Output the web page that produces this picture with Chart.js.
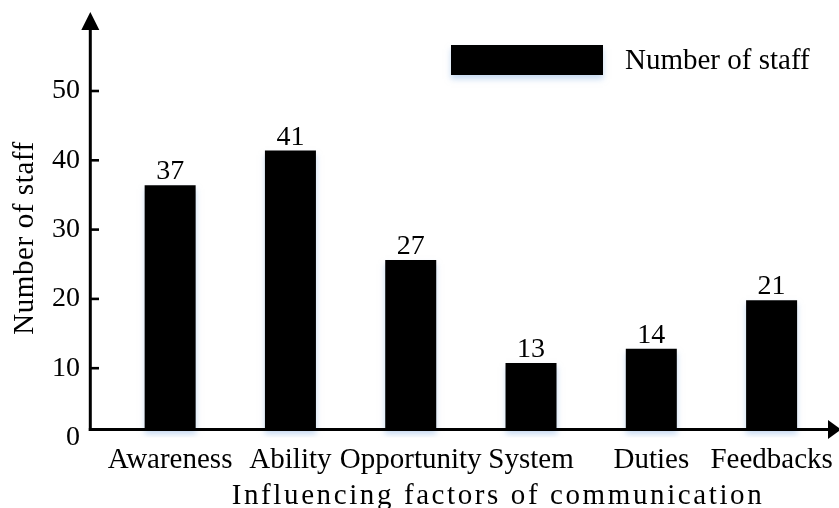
<!DOCTYPE html>
<html><head><meta charset="utf-8">
<script src="https://cdn.jsdelivr.net/npm/chart.js@4.4.0/dist/chart.umd.min.js"></script>
<style>html,body{margin:0;padding:0;background:#fff;overflow:hidden}#wrap{width:839px;height:508px;position:relative}</style>
</head><body><div id="wrap"><canvas id="c" width="839" height="508"></canvas></div>
<script>
const categories = ['Awareness', 'Ability', 'Opportunity', 'System', 'Duties', 'Feedbacks'];
const barHeights = [36.4, 41.4, 25.6, 10.75, 12.8, 19.8];
const valueLabels = ['37', '41', '27', '13', '14', '21'];
const yTickValues = [0, 10, 20, 30, 40, 50];
const seriesName = 'Number of staff';
const xTitle = 'Influencing factors of communication';
const yTitle = 'Number of staff';
const axisBase = 1.15;
const yMax = 61.4;

const FONT = '"Liberation Serif", "Times New Roman", serif';

const deco = {
  id: 'deco',
  beforeDatasetsDraw(chart) {
    const ctx = chart.ctx;
    ctx.save();
    ctx.shadowColor = 'rgba(150,185,230,0.55)';
    ctx.shadowBlur = 6;
    ctx.shadowOffsetY = 4;
  },
  afterDatasetsDraw(chart) {
    const ctx = chart.ctx;
    ctx.restore();
    const meta = chart.getDatasetMeta(0);
    ctx.save();
    ctx.font = '28px ' + FONT;
    ctx.fillStyle = '#000';
    ctx.textAlign = 'center';
    ctx.textBaseline = 'alphabetic';
    meta.data.forEach((bar, i) => ctx.fillText(valueLabels[i], bar.x, bar.y - 6));
    ctx.restore();
  },
  afterDraw(chart) {
    const ctx = chart.ctx;
    const ys = chart.scales.y;
    const ax = 90.3;
    const ay = ys.getPixelForValue(axisBase);
    ctx.save();
    ctx.strokeStyle = '#000';
    ctx.fillStyle = '#000';
    ctx.lineWidth = 3;
    // y axis
    ctx.beginPath();
    ctx.moveTo(ax, ay + 1.5);
    ctx.lineTo(ax, 28);
    ctx.stroke();
    ctx.beginPath();
    ctx.moveTo(ax, 12); ctx.lineTo(ax - 9, 30); ctx.lineTo(ax + 9, 30); ctx.closePath(); ctx.fill();
    // x axis
    ctx.beginPath();
    ctx.moveTo(ax - 1.5, ay);
    ctx.lineTo(830, ay);
    ctx.stroke();
    ctx.beginPath();
    ctx.moveTo(841, ay); ctx.lineTo(828, ay - 9.5); ctx.lineTo(828, ay + 9.5); ctx.closePath(); ctx.fill();
    // tick marks
    ctx.lineWidth = 2.6;
    ys.ticks.forEach(t => {
      if (t.value <= 0) return;
      const py = ys.getPixelForValue(t.value);
      ctx.beginPath(); ctx.moveTo(ax, py); ctx.lineTo(99, py); ctx.stroke();
    });
    // titles
    ctx.font = '29px ' + FONT;
    ctx.textBaseline = 'middle';
    ctx.textAlign = 'center';
    ctx.save();
    ctx.translate(25, 238);
    ctx.rotate(-Math.PI / 2);
    ctx.letterSpacing = '0.6px';
    ctx.fillText(yTitle, 0, 0);
    ctx.restore();
    ctx.letterSpacing = '2.6px';
    ctx.textBaseline = 'alphabetic';
    ctx.fillText(xTitle, 498, 504);
    ctx.letterSpacing = '0px';
    // legend
    ctx.save();
    ctx.shadowColor = 'rgba(150,185,230,0.55)';
    ctx.shadowBlur = 6;
    ctx.shadowOffsetY = 4;
    ctx.fillRect(451, 45, 152, 30);
    ctx.restore();
    ctx.textAlign = 'left';
    ctx.fillText(chart.data.datasets[0].label, 625, 68.5);
    ctx.restore();
  }
};

new Chart(document.getElementById('c'), {
  type: 'bar',
  data: {
    labels: categories,
    datasets: [{
      label: seriesName,
      data: barHeights,
      base: axisBase,
      backgroundColor: '#000',
      borderWidth: 0,
      categoryPercentage: 1,
      barPercentage: 0.424
    }]
  },
  options: {
    responsive: false,
    animation: false,
    devicePixelRatio: 1,
    layout: { padding: { top: 12, right: 7.25, left: 0, bottom: 0 } },
    plugins: { legend: { display: false }, tooltip: { enabled: false } },
    scales: {
      x: {
        grid: { display: false, drawTicks: false },
        border: { display: false },
        ticks: { color: '#000', font: { family: FONT, size: 29 }, padding: 5, maxRotation: 0, autoSkip: false },
        afterFit(s) { s.height = 508 - 437.5; s.paddingLeft = 0; s.paddingRight = 0; }
      },
      y: {
        min: 0,
        max: yMax,
        grid: { display: false, drawTicks: false },
        border: { display: false },
        ticks: { color: '#000', font: { family: FONT, size: 28 }, padding: 30 },
        afterBuildTicks(s) { s.ticks = yTickValues.map(v => ({ value: v })); },
        afterFit(s) { s.width = 110; s.paddingTop = 0; s.paddingBottom = 0; }
      }
    }
  },
  plugins: [deco]
});
</script>
</body></html>
